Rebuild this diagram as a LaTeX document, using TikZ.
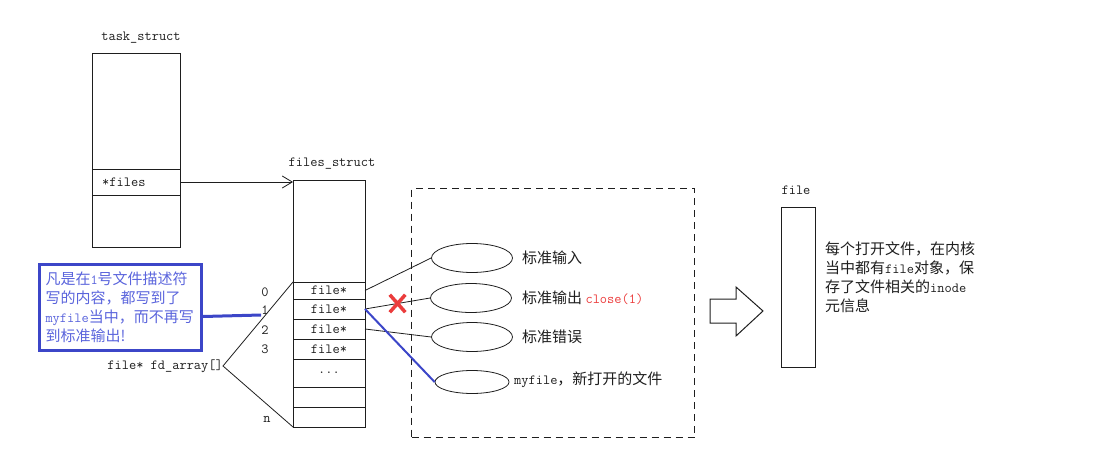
\documentclass[tikz,border=0pt]{standalone}
\usepackage{fontspec}
\usepackage{xcolor}
\usepackage{tikz}
\usetikzlibrary{arrows.meta, positioning, calc, shapes.geometric, shapes.misc}
\newfontfamily\cjk{Noto Sans CJK SC}
\newcommand{\mono}[1]{{\ttfamily\fontsize{14}{19}\selectfont #1}}
\definecolor{ink}{RGB}{30,30,30}
\definecolor{noteblue}{RGB}{60,70,200}
\definecolor{notetext}{RGB}{90,100,220}
\definecolor{closered}{RGB}{235,60,60}

\begin{document}
\begin{tikzpicture}[x=1pt,y=-1pt,
  box/.style={rectangle,draw=ink,line width=1pt,inner sep=0pt,outer sep=0pt,minimum width=88pt},
  cell/.style={rectangle,draw=ink,line width=1pt,inner sep=0pt,outer sep=0pt,minimum width=72pt,minimum height=20pt,font=\ttfamily\fontsize{14}{16}\selectfont,text=ink},
  lbl/.style={font=\ttfamily\fontsize{14}{16}\selectfont,text=ink,inner sep=0pt},
  zh/.style={font=\cjk\fontsize{15}{19}\selectfont,text=ink,inner sep=0pt,align=left},
  ell/.style={ellipse,draw=ink,line width=0.8pt,inner sep=0pt,minimum width=81pt,minimum height=29pt},
  link/.style={draw=ink,line width=0.8pt},
  blueline/.style={draw=noteblue,line width=2pt},
  note/.style={rectangle,draw=noteblue,line width=3pt,text=notetext,font=\cjk\fontsize{15}{19}\selectfont,
    text width=150pt,align=left,inner xsep=6pt,minimum height=86pt},
  crossmark/.style={cross out,draw=closered,line width=3.5pt,inner sep=0pt,minimum width=12pt,minimum height=14pt},
  frame/.style={rectangle,draw=ink,line width=1pt,dash pattern=on 7pt off 5pt,inner sep=0pt}]
\useasboundingbox (0,0) rectangle (1096,460);

% task_struct
\node[box,minimum height=193pt,anchor=north west] (task) at (92,54) {};
\node[box,minimum height=26pt,anchor=north west] (tfiles) at (92,169) {};
\node[lbl,anchor=west] (tfilestxt) at ($(tfiles.west)+(10,0)$) {*files};
\node[lbl] (tasklbl) at (141,38) {task\_struct};

% files_struct
\node[lbl] (fileslbl) at (332,164) {files\_struct};
\node[cell,minimum height=102pt,anchor=north west] (ftop) at (293,180) {};
\node[cell,minimum height=17pt,below=0pt of ftop] (f0) {file*};
\node[cell,below=0pt of f0] (f1) {file*};
\node[cell,below=0pt of f1] (f2) {file*};
\node[cell,below=0pt of f2] (f3) {file*};
\node[cell,minimum height=28pt,below=0pt of f3] (fdots) {...};
\node[cell,below=0pt of fdots] (f5) {};
\node[cell,below=0pt of f5] (fn) {};

\node[lbl] (i0) at (265,292) {0};
\node[lbl] (i1) at (265,310) {1};
\node[lbl] (i2) at (265,330) {2};
\node[lbl] (i3) at (265,349) {3};
\node[lbl] (in) at (267,419) {n};

\node[lbl,anchor=east] (fda) at (223,366) {file* fd\_array[]};
\draw[link] (f0.north west) -- (fda.east) -- (fn.south west);

\draw[link,-{Straight Barb[length=10pt,width=12pt]}] (tfiles.east) -- (ftop.west |- tfiles.east);

% note
\node[note,anchor=north west] (note) at (38,263) {凡是在\mono{1}号文件描述符\\写的内容，都写到了\\\mono{myfile}当中，而不再写\\到标准输出!};
\draw[draw=noteblue,line width=3pt] ($(note.east)+(0,9)$) -- ($(i1.west)+(0,5)$);

% standard streams
\node[frame,minimum width=283pt,minimum height=249pt,anchor=north west] (stdgrp) at (411,188) {};
\node[ell] (e0) at (472,258) {};
\node[ell] (e1) at (471,298) {};
\node[ell] (e2) at (472,337) {};
\node[ell,minimum width=74pt,minimum height=23pt] (e3) at (472,382) {};
\node[zh,anchor=west] (t0) at (522,258) {标准输入};
\node[zh,anchor=west] (t1) at (522,298) {标准输出 \mono{\textcolor{closered}{close(1)}}};
\node[zh,anchor=west] (t2) at (522,337) {标准错误};
\node[zh,anchor=west] (t3) at (514,380) {\mono{myfile}，新打开的文件};

\draw[link] (f0.east) -- (e0.west);
\draw[link] (f1.east) -- node[crossmark,pos=0.5] (x1) {} (e1.west);
\draw[link] (f2.east) -- (e2.west);
\draw[blueline] (f1.east) -- (e3.west);

% file object
\draw[ink,line width=1pt] (710,299) -- (736,299) -- (736,287) -- (763,311) -- (736,336) -- (736,323) -- (710,323) -- cycle;
\node[box,minimum width=34pt,minimum height=160pt,anchor=north west] (fileobj) at (781,207) {};
\node[lbl] (filelbl) at (796,190) {file};
\node[zh,anchor=north west] (fileinfo) at (825,242) {每个打开文件，在内核\\当中都有\mono{file}对象，保\\存了文件相关的\mono{inode}\\元信息};
\end{tikzpicture}
\end{document}
